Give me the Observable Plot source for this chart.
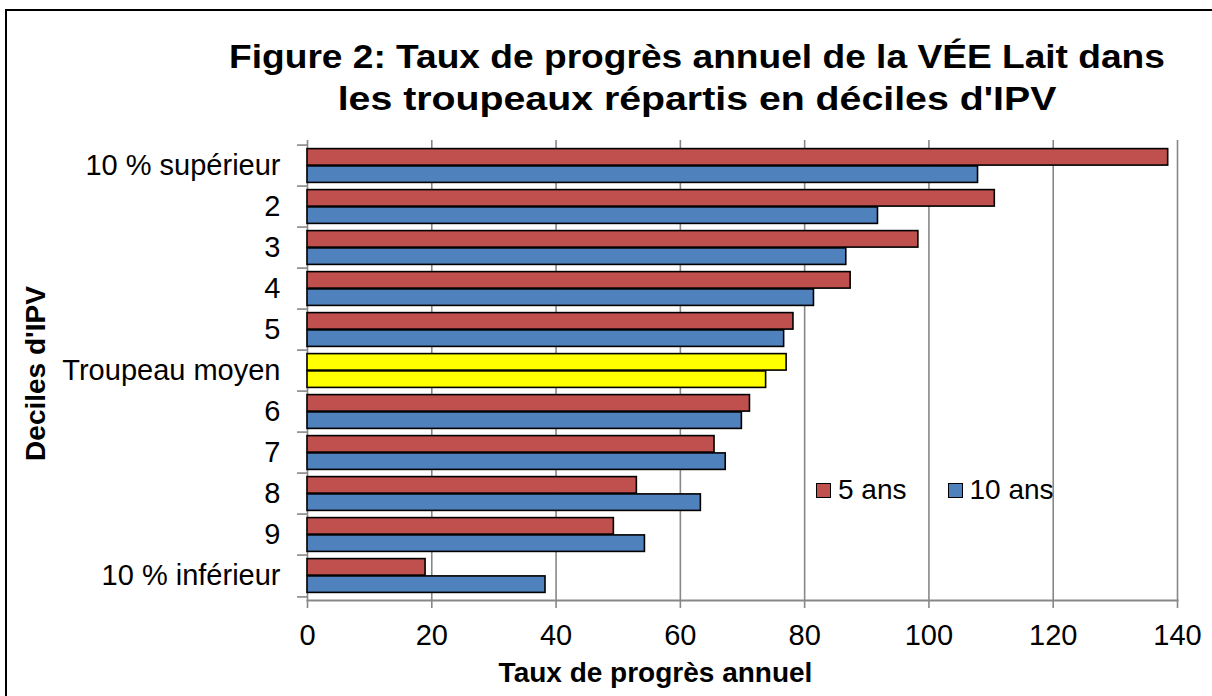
<!DOCTYPE html>
<html><head><meta charset="utf-8">
<script src="https://cdn.jsdelivr.net/npm/d3@7"></script>
<script src="https://cdn.jsdelivr.net/npm/@observablehq/plot@0.6"></script>
<style>
body{margin:0;background:#fff;font-family:"Liberation Sans",Arial,sans-serif;overflow:hidden}
#wrap{position:relative;width:1212px;height:696px;overflow:hidden;background:#fff}
#frame{position:absolute;left:5px;top:9px;width:1400px;height:900px;border:2px solid #000;box-sizing:border-box;pointer-events:none;z-index:5}
#head{position:absolute;left:0;top:0;width:1212px;height:120px}
#title{position:absolute;left:697px;top:36px;transform:translateX(-50%);text-align:center;font-weight:bold;font-size:33px;line-height:42px;color:#000;white-space:nowrap}
#title .l1{display:inline-block;transform:scaleX(1.125)}
#title .l2{display:inline-block;transform:scaleX(1.19)}
#chart{position:absolute;left:0;top:120px}
#chart svg{display:block}
#legend{position:absolute;left:816px;top:474px;display:flex;align-items:center;font-size:28px;color:#000;white-space:nowrap;z-index:3}
#legend .item{display:flex;align-items:center}
#legend .sw{width:13px;height:13px;border:1.5px solid #000;margin-right:7px}
</style></head>
<body>
<div id="wrap">
  <div id="head"><div id="title"><span class="l1">Figure 2: Taux de progrès annuel de la VÉE Lait dans</span><br><span class="l2">les troupeaux répartis en déciles d'IPV</span></div></div>
  <div id="chart"></div>
  <div id="legend"></div>
  <div id="frame"></div>
</div>
<script>
const categories = ["10 % supérieur","2","3","4","5","Troupeau moyen","6","7","8","9","10 % inférieur"];
const ans5  = [138.5, 110.6, 98.3, 87.4, 78.2, 77.1, 71.2, 65.5, 53.0, 49.3, 19.0];
const ans10 = [107.9, 91.8, 86.7, 81.5, 76.7, 73.8, 69.9, 67.3, 63.3, 54.3, 38.3];
const series = ["5 ans", "10 ans"];
const highlight = "Troupeau moyen";
const xTicks = [0, 20, 40, 60, 80, 100, 120, 140];
const seriesColors = ["#C0504D", "#4F81BD"];
const highlightColor = "#FFFF00";

const rows = categories.flatMap((c, i) => [
  {cat: c, serie: series[0], v: ans5[i]},
  {cat: c, serie: series[1], v: ans10[i]}
]);

const W = 1212, H = 576, mT = 20, mB = 96, mL = 307, mR = 35;
const bw = (H - mT - mB) / categories.length;
const gap = 3.6;
const gray = "#878787";

const chart = Plot.plot({
  width: W, height: H,
  marginTop: mT, marginBottom: mB, marginLeft: mL, marginRight: mR,
  style: {fontFamily: "'Liberation Sans', Arial, sans-serif", color: "#000", background: "transparent", overflow: "visible"},
  x: {domain: [0, 140]},
  y: {domain: categories, padding: 0},
  color: {domain: [...series, highlight], range: [...seriesColors, highlightColor]},
  marks: [
    Plot.ruleX(xTicks, {stroke: gray, strokeWidth: 1.6}),
    Plot.frame({anchor: "bottom", stroke: gray, strokeWidth: 2, strokeOpacity: 1}),
    Plot.rectX(rows.filter(d => d.serie === series[0]), {
      y: "cat", x1: 0, x2: "v",
      fill: d => d.cat === highlight ? highlight : d.serie,
      stroke: "#000", strokeWidth: 1.6,
      insetTop: gap, insetBottom: bw / 2
    }),
    Plot.rectX(rows.filter(d => d.serie === series[1]), {
      y: "cat", x1: 0, x2: "v",
      fill: d => d.cat === highlight ? highlight : d.serie,
      stroke: "#000", strokeWidth: 1.6,
      insetTop: bw / 2, insetBottom: gap
    }),
    Plot.axisY({tickSize: 10, tickFormat: () => "", dy: -bw / 2, stroke: gray, strokeWidth: 1.6, label: null}),
    Plot.axisY({ticks: [categories[categories.length - 1]], tickSize: 10, tickFormat: () => "", dy: bw / 2, stroke: gray, strokeWidth: 1.6, label: null}),
    Plot.axisY({tickSize: 0, tickPadding: 27, fontSize: 29, fill: "#000", label: null}),
    Plot.axisX(xTicks, {tickSize: 8, tickPadding: 16, fontSize: 29, stroke: gray, strokeWidth: 1.6, fill: "#000", label: null}),
    Plot.text(["Taux de progrès annuel"], {frameAnchor: "bottom", dx: -87, dy: 73, fontSize: 28, fontWeight: "bold", fill: "#000", lineAnchor: "middle"}),
    Plot.text(["Deciles d'IPV"], {frameAnchor: "left", dx: -271, dy: 3, rotate: -90, textAnchor: "middle", fontSize: 28, fontWeight: "bold", fill: "#000", lineAnchor: "middle"})
  ]
});
document.getElementById("chart").appendChild(chart);

const legend = document.getElementById("legend");
series.forEach((s, i) => {
  const item = document.createElement("div");
  item.className = "item";
  if (i > 0) item.style.marginLeft = "41px";
  const sw = document.createElement("div");
  sw.className = "sw";
  sw.style.background = seriesColors[i];
  const t = document.createElement("span");
  t.textContent = s;
  item.appendChild(sw); item.appendChild(t);
  legend.appendChild(item);
});
</script>
</body></html>
